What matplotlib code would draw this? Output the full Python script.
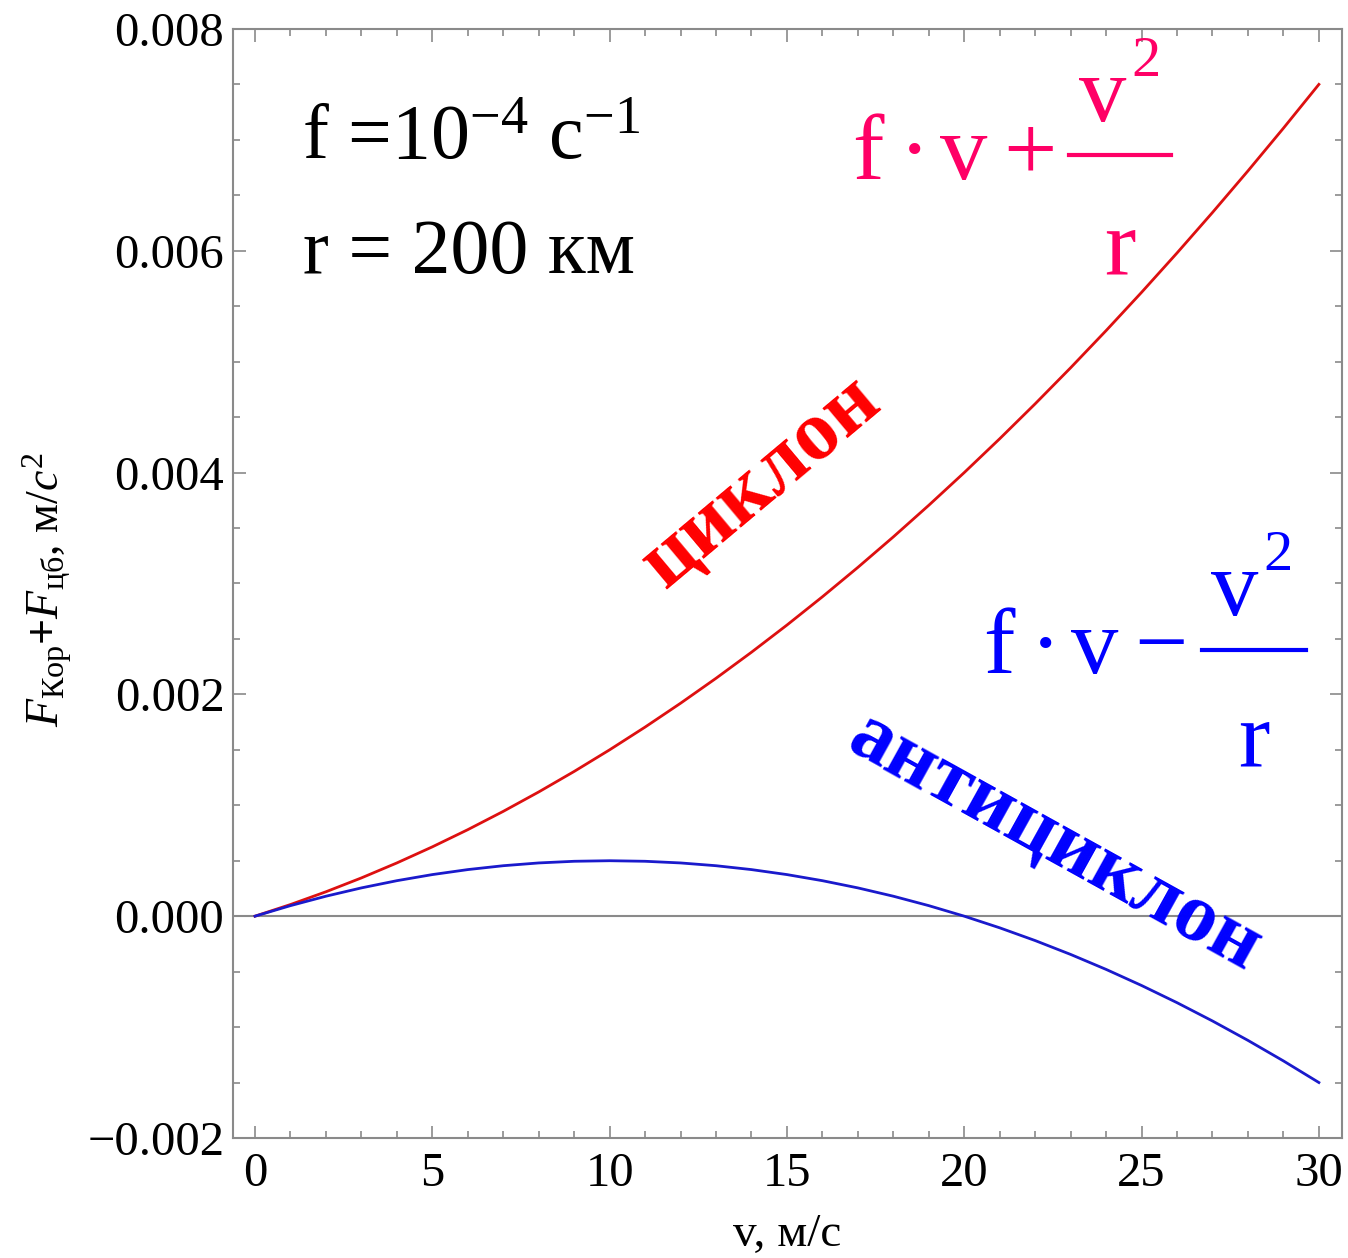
import numpy as np
import matplotlib
matplotlib.use("Agg")
import matplotlib.pyplot as plt
from matplotlib.lines import Line2D
from matplotlib.ticker import MultipleLocator, FuncFormatter

plt.rcParams['font.family'] = ['Liberation Serif', 'DejaVu Serif']
plt.rcParams['mathtext.fontset'] = 'custom'
plt.rcParams['mathtext.rm'] = 'Liberation Serif'
plt.rcParams['mathtext.it'] = 'Liberation Serif:italic'
plt.rcParams['mathtext.bf'] = 'Liberation Serif:bold'

# скорость ветра, м/с
v = [0, 1, 2, 3, 4, 5, 6, 7, 8, 9, 10, 11, 12, 13, 14, 15,
     16, 17, 18, 19, 20, 21, 22, 23, 24, 25, 26, 27, 28, 29, 30]

# циклон: f*v + v^2/r
cyclone = [0.0, 0.000105, 0.00022, 0.000345, 0.00048, 0.000625, 0.00078,
           0.000945, 0.00112, 0.001305, 0.0015, 0.001705, 0.00192, 0.002145,
           0.00238, 0.002625, 0.00288, 0.003145, 0.00342, 0.003705, 0.004,
           0.004305, 0.00462, 0.004945, 0.00528, 0.005625, 0.00598, 0.006345,
           0.00672, 0.007105, 0.0075]

# антициклон: f*v - v^2/r
anticyclone = [0.0, 0.000095, 0.00018, 0.000255, 0.00032, 0.000375, 0.00042,
               0.000455, 0.00048, 0.000495, 0.0005, 0.000495, 0.00048, 0.000455,
               0.00042, 0.000375, 0.00032, 0.000255, 0.00018, 0.000095, 0.0,
               -0.000105, -0.00022, -0.000345, -0.00048, -0.000625, -0.00078,
               -0.000945, -0.00112, -0.001305, -0.0015]

W, H = 1348, 1258
fig = plt.figure(figsize=(W / 100, H / 100), dpi=100)
ax = fig.add_axes([0.1726, 0.0954, 0.8229, 0.8816])

ax.axhline(0, color='#8a8a8a', lw=1.5, zorder=1)
ax.plot(v, cyclone, color='#dd1010', lw=2.0, zorder=3)
ax.plot(v, anticyclone, color='#1a1acc', lw=2.0, zorder=3)

ax.set_xlim(-0.63, 30.65)
ax.set_ylim(-0.002, 0.008)

ax.xaxis.set_major_locator(MultipleLocator(5))
ax.xaxis.set_minor_locator(MultipleLocator(1))
ax.yaxis.set_major_locator(MultipleLocator(0.002))
ax.yaxis.set_minor_locator(MultipleLocator(0.0005))
ax.yaxis.set_major_formatter(FuncFormatter(lambda y, p: f"{y:.3f}".replace('-', '\u2212')))

ax.tick_params(which='both', direction='in', top=True, right=True,
               color='#8a8a8a', width=1.2, labelsize=35)
ax.tick_params(which='major', length=9)
ax.tick_params(which='minor', length=5)
ax.tick_params(axis='x', pad=10)
ax.tick_params(axis='y', pad=6)
for s in ax.spines.values():
    s.set_color('#8a8a8a')
    s.set_linewidth(1.5)

ax.set_xlabel('v, м/с', fontsize=34)
ax.xaxis.set_label_coords(0.5, -0.068)
ax.set_ylabel(r'$F_{\mathrm{Кор}}\mathbf{+}F_{\mathrm{цб}}$, м/$c^{2}$', fontsize=33, va='center')
ax.yaxis.set_label_coords(-0.167, 0.494)

# параметры
ax.text(1.33, 0.00684, r'f =10$^{-4}$ c$^{-1}$', fontsize=56, va='baseline', ha='left')
ax.text(1.35, 0.0058, 'r = 200 км', fontsize=56, va='baseline', ha='left')


def px(x, y):
    # пиксели картинки -> доли фигуры
    return x / W, 1 - y / H


def formula(left, base, sign, bar_x0, bar_x1, bar_y, v_x, v_base, r_x, r_base, color):
    kw = dict(fontsize=68, color=color, va='baseline')
    fig.text(*px(left, base), 'f', ha='left', **kw)
    fig.text(*px(left + 63, base), '·', ha='center', **kw)
    fig.text(*px(left + 88, base), 'v', ha='left', **kw)
    fig.text(*px(left + 151, base), sign, ha='left', **kw)
    x0, y0 = px(bar_x0, bar_y)
    x1, _ = px(bar_x1, bar_y)
    fig.add_artist(Line2D([x0, x1], [y0, y0], transform=fig.transFigure,
                          color=color, lw=3))
    fig.text(*px(v_x, v_base), 'v', ha='center', **kw)
    fig.text(*px(v_x + 28, v_base - 45), '2', fontsize=42, color=color, ha='left', va='baseline')
    fig.text(*px(r_x, r_base), 'r', ha='center', **kw)


formula(852, 179, '+', 1069, 1171, 155, 1103, 121, 1120, 274, '#ff0066')
formula(983, 673, '\u2212', 1202, 1306, 650, 1235, 615, 1254, 765, '#0000ff')

ax.text(14.29, 0.00391, 'циклон', fontsize=61, fontweight='bold', color='#ff0000',
        rotation=40, rotation_mode='anchor', ha='center', va='center')
ax.text(22.55, 0.00066, 'антициклон', fontsize=60, fontweight='bold', color='#0000ff',
        rotation=-29, rotation_mode='anchor', ha='center', va='center')

fig.savefig('out.png', dpi=100)
